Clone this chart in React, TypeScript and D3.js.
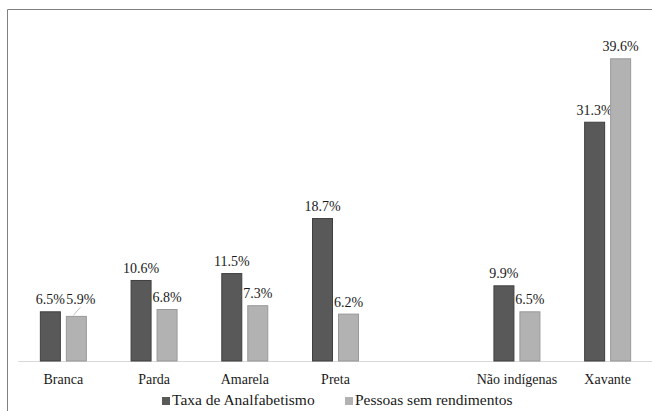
import { useEffect, useRef } from "react";
import * as d3 from "d3";

const categories = ["Branca", "Parda", "Amarela", "Preta", "", "Não indígenas", "Xavante"];
const analfabetismo = [6.5, 10.6, 11.5, 18.7, null, 9.9, 31.3];
const semRendimentos = [5.9, 6.8, 7.3, 6.2, null, 6.5, 39.6];
const seriesNames = ["Taxa de Analfabetismo", "Pessoas sem rendimentos"];
const colors = ["#595959", "#b2b2b2"];
const strokes = ["#3f3f3f", "#999999"];

export default function App() {
  const ref = useRef<SVGSVGElement | null>(null);

  useEffect(() => {
    if (!ref.current) return;
    const w = 652,
      h = 411;
    const svg = d3.select(ref.current);
    svg.selectAll("*").remove();
    svg.attr("width", w).attr("height", h).attr("viewBox", `0 0 ${w} ${h}`);

    const font =
      '"Liberation Serif", Tinos, "Times New Roman", Times, "Noto Serif", "DejaVu Serif", FreeSerif, serif';

    svg.append("rect").attr("width", w).attr("height", h).attr("fill", "#fff");

    // outer frame (only top/left visible in crop)
    svg
      .append("path")
      .attr("d", `M7.5,${h} V9.5 H${w}`)
      .attr("fill", "none")
      .attr("stroke", "#808080")
      .attr("stroke-width", 1);

    const x = d3.scaleBand().domain(categories).range([18, 653]).padding(0);
    const y = d3.scaleLinear().domain([0, 45]).range([361, 17]);
    const bw = 21;

    svg
      .append("line")
      .attr("x1", 18)
      .attr("x2", w)
      .attr("y1", y(0) + 0.5)
      .attr("y2", y(0) + 0.5)
      .attr("stroke", "#d9d9d9");

    const series = [analfabetismo, semRendimentos];
    const offsets = [-23.5, 2.5];

    series.forEach((vals, si) => {
      const g = svg.append("g");
      categories.forEach((c, i) => {
        const v = vals[i];
        if (v == null) return;
        const cx = (x(c) ?? 0) + x.bandwidth() / 2;
        const bx = cx + offsets[si];
        g.append("rect")
          .attr("x", bx + 0.5)
          .attr("y", y(v) + 0.5)
          .attr("width", bw - 1)
          .attr("height", y(0) - y(v) - 0.5)
          .attr("fill", colors[si])
          .attr("stroke", strokes[si])
          .attr("stroke-width", 1);

        // label: Branca light label is nudged with a leader line
        let lx = bx + bw / 2;
        let ly = y(v) - 7;
        if (si === 1 && i === 0) {
          lx += 4.5;
          ly = y(analfabetismo[0] as number) - 7;
          svg
            .append("line")
            .attr("x1", bx + bw / 2 - 3)
            .attr("y1", y(v) - 0.5)
            .attr("x2", bx + bw / 2 + 4)
            .attr("y2", ly + 3)
            .attr("stroke", "#bfbfbf")
            .attr("stroke-width", 1);
        }
        svg
          .append("text")
          .attr("x", lx)
          .attr("y", ly)
          .attr("text-anchor", "middle")
          .style("font-family", font)
          .style("font-size", "14px")
          .attr("fill", "#1a1a1a")
          .text(`${v.toFixed(1)}%`);
      });
    });

    // category labels
    categories.forEach((c) => {
      if (!c) return;
      svg
        .append("text")
        .attr("x", (x(c) ?? 0) + x.bandwidth() / 2)
        .attr("y", 384)
        .attr("text-anchor", "middle")
        .style("font-family", font)
        .style("font-size", "14px")
        .attr("fill", "#1a1a1a")
        .text(c);
    });

    // legend
    const legendX = [162, 345];
    seriesNames.forEach((name, i) => {
      svg
        .append("rect")
        .attr("x", legendX[i])
        .attr("y", 397)
        .attr("width", 8)
        .attr("height", 8)
        .attr("fill", colors[i]);
      svg
        .append("text")
        .attr("x", legendX[i] + 10)
        .attr("y", 405)
        .style("font-family", font)
        .style("font-size", "15.5px")
        .attr("fill", "#1a1a1a")
        .text(name);
    });
  }, []);

  return <svg ref={ref} style={{ display: "block", position: "absolute", left: 0, top: 0 }} />;
}
